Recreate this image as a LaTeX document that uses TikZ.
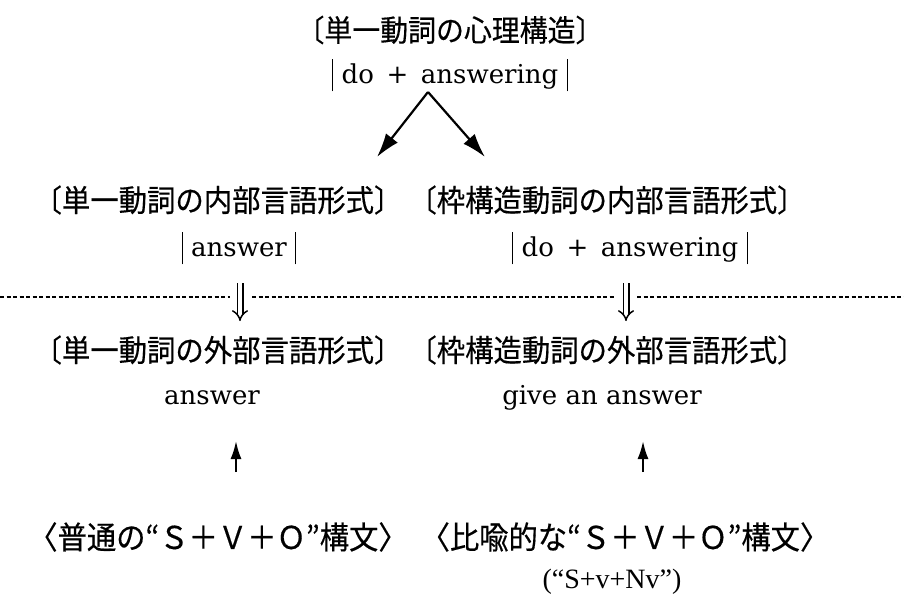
\documentclass[tikz,border=0pt]{standalone}
\usepackage{fontspec}
\newfontfamily\jpfont[FakeBold=0.4,FakeStretch=0.93]{Noto Sans CJK JP}
\newfontfamily\latfont{DejaVu Serif}
\newfontfamily\narrowfont{Liberation Serif}
\usetikzlibrary{arrows.meta}
\tikzset{
  jptitle/.style={inner sep=0pt, font=\jpfont\fontsize{30}{34}\selectfont},
  jp/.style={inner sep=0pt, font=\jpfont\fontsize{30.5}{35}\selectfont},
  jpb/.style={inner sep=0pt, font=\jpfont\fontsize{31.5}{36}\selectfont},
  lat/.style={inner sep=0pt, font=\latfont\fontsize{26}{30}\selectfont},
  latsmall/.style={inner sep=0pt, font=\narrowfont\fontsize{28}{32}\selectfont},
  splitarrow/.style={line width=2.2pt, -{Latex[length=24pt,width=15pt]}},
  uparrow/.style={line width=2.2pt, -{Latex[length=18pt,width=11pt]}},
  levelarrow/.style={double, double distance=4pt, line width=1.5pt, -{Implies[length=11pt]}},
  sepline/.style={dash pattern=on 4pt off 2.5pt, line width=1.1pt}
}
\newcommand{\vb}{\rule[-0.3em]{1pt}{1.25em}}
\begin{document}
\begin{tikzpicture}[x=1pt,y=-1pt]
\useasboundingbox[fill=white] (0,0) rectangle (904,602);
% top
\node[jptitle] (t1) at (450,30) {〔単一動詞の心理構造〕};
\node[lat] (t2) at (450,75) {\vb\ do\, + \,answering\ \vb};
\coordinate (apex) at (428,92);
\coordinate (tipL) at (377,157);
\coordinate (tipR) at (485,157);
\draw[splitarrow] (apex) -- (tipL);
\draw[splitarrow] (apex) -- (tipR);
% row 2
\node[jp] (l1) at (218,200) {〔単一動詞の内部言語形式〕};
\node[jp] (r1) at (607,200) {〔枠構造動詞の内部言語形式〕};
\node[lat] (l2) at (239,248) {\vb\ answer\ \vb};
\node[lat] (r2) at (630,248) {\vb\ do\, + \,answering\ \vb};
% separator
\coordinate (d0) at (0,297);
\coordinate (d1) at (230,297);
\coordinate (d2) at (252,297);
\coordinate (d3) at (615,297);
\coordinate (d4) at (637,297);
\coordinate (d5) at (904,297);
\draw[sepline] (d0) -- (d1);
\draw[sepline] (d2) -- (d3);
\draw[sepline] (d4) -- (d5);
\coordinate (aL1) at (240,283);
\coordinate (aL2) at (240,321);
\coordinate (aR1) at (626,283);
\coordinate (aR2) at (626,321);
\draw[levelarrow] (aL1) -- (aL2);
\draw[levelarrow] (aR1) -- (aR2);
% row 3
\node[jp] (l3) at (218,350) {〔単一動詞の外部言語形式〕};
\node[jp] (r3) at (607,350) {〔枠構造動詞の外部言語形式〕};
\node[lat] (l4) at (212,398) {answer};
\node[lat] (r4) at (602,398) {give an answer};
% bottom
\node[jpb] (l5) at (218,537) {〈普通の“Ｓ＋Ｖ＋Ｏ”構文〉};
\node[jpb] (r5) at (625,537) {〈比喩的な“Ｓ＋Ｖ＋Ｏ”構文〉};
\node[latsmall] (r6) at (612,582) {(“S+v+Nv”)};
\coordinate (uL1) at (236,472);
\coordinate (uL2) at (236,441);
\coordinate (uR1) at (643,472);
\coordinate (uR2) at (643,441);
\draw[uparrow] (uL1) -- (uL2);
\draw[uparrow] (uR1) -- (uR2);
\end{tikzpicture}
\end{document}
